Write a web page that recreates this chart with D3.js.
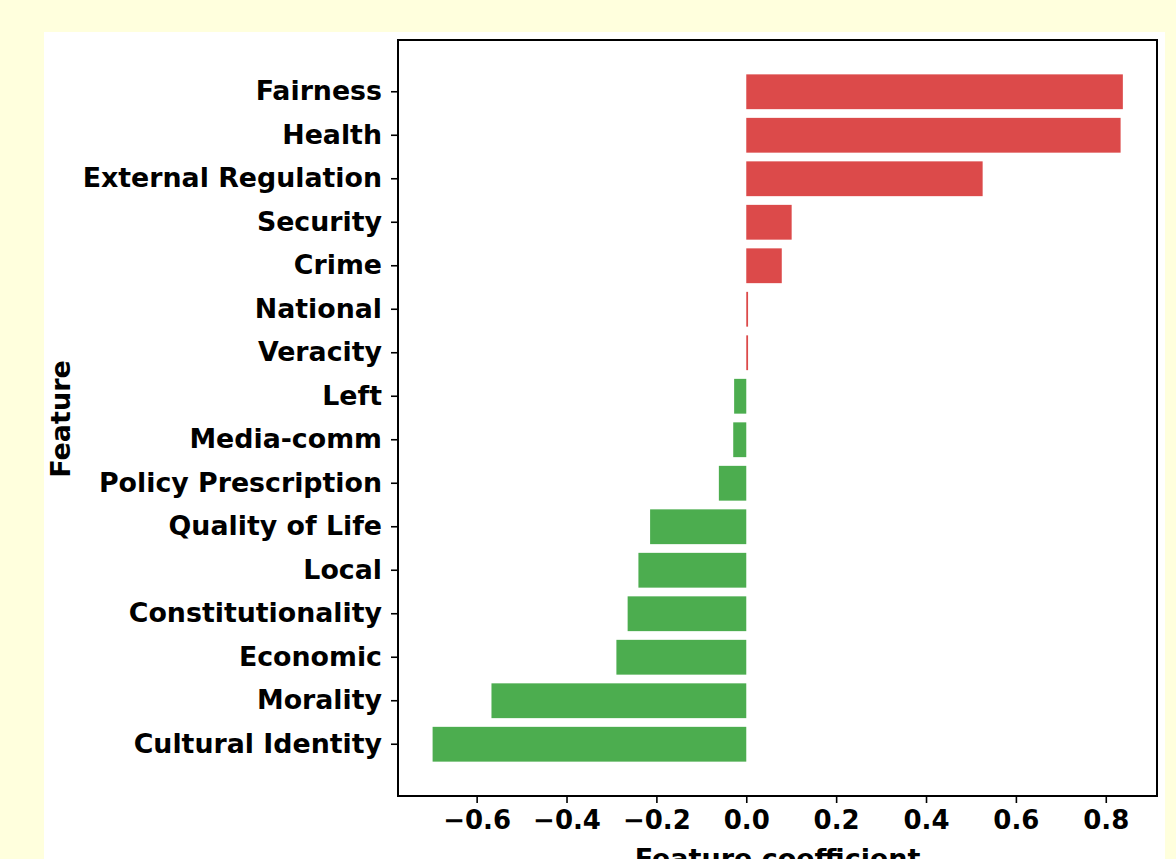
<!DOCTYPE html>
<html>
<head>
<meta charset="utf-8">
<script src="https://cdn.jsdelivr.net/npm/d3@7"></script>
<style>
  html, body { margin: 0; padding: 0; background: #ffffdd; }
  svg { display: block; }
  text { font-family: "DejaVu Sans", sans-serif; font-weight: bold; }
</style>
</head>
<body>
<svg id="chart" width="1176" height="859"></svg>
<script>
const features = ["Fairness", "Health", "External Regulation", "Security", "Crime", "National",
  "Veracity", "Left", "Media-comm", "Policy Prescription", "Quality of Life", "Local",
  "Constitutionality", "Economic", "Morality", "Cultural Identity"];
const coefficients = [0.838, 0.833, 0.526, 0.101, 0.079, 0.004,
  0.004, -0.027, -0.029, -0.061, -0.214, -0.240,
  -0.264, -0.289, -0.567, -0.698];
const xTicks = [-0.6, -0.4, -0.2, 0.0, 0.2, 0.4, 0.6, 0.8];
const xDomain = [-0.775, 0.914];
const posColor = "#dc4a4a";
const negColor = "#4cad4f";
const xLabel = "Feature coefficient";
const yLabel = "Feature";

const svg = d3.select("#chart");
const W = 1176, H = 859;
const plot = { left: 398, right: 1157, top: 40, bottom: 796 };

// background + white panel
svg.append("rect").attr("width", W).attr("height", H).attr("fill", "#ffffdd");
svg.append("rect").attr("x", 44).attr("y", 32).attr("width", 1121).attr("height", H - 32).attr("fill", "#ffffff");

const x = d3.scaleLinear().domain(xDomain).range([plot.left, plot.right]);
const y = d3.scaleBand().domain(features).range([plot.top, plot.bottom])
  .paddingInner(0.2).paddingOuter(0.79);

// bars
svg.append("g").selectAll("rect").data(features).join("rect")
  .attr("x", (d, i) => x(Math.min(0, coefficients[i])))
  .attr("width", (d, i) => Math.abs(x(coefficients[i]) - x(0)))
  .attr("y", d => y(d))
  .attr("height", y.bandwidth())
  .attr("fill", (d, i) => coefficients[i] >= 0 ? posColor : negColor);

// axes
const xAxis = d3.axisBottom(x).tickValues(xTicks).tickFormat(d3.format(".1f"))
  .tickSize(7).tickPadding(8).tickSizeOuter(0);
const gx = svg.append("g").attr("transform", `translate(0,${plot.bottom})`).call(xAxis);
gx.select(".domain").remove();
gx.selectAll(".tick line").attr("stroke", "#000").attr("stroke-width", 1.6);
gx.selectAll(".tick text").attr("font-size", 26).attr("fill", "#000")
  .attr("font-family", "DejaVu Sans").attr("font-weight", "bold");

const yAxis = d3.axisLeft(y).tickSize(7).tickPadding(9).tickSizeOuter(0);
const gy = svg.append("g").attr("transform", `translate(${plot.left},0)`).call(yAxis);
gy.select(".domain").remove();
gy.selectAll(".tick line").attr("stroke", "#000").attr("stroke-width", 1.6);
gy.selectAll(".tick text").attr("font-size", 26.8).attr("fill", "#000")
  .attr("font-family", "DejaVu Sans").attr("font-weight", "bold");

// frame
svg.append("rect").attr("x", plot.left).attr("y", plot.top)
  .attr("width", plot.right - plot.left).attr("height", plot.bottom - plot.top)
  .attr("fill", "none").attr("stroke", "#000").attr("stroke-width", 2);

// axis labels
svg.append("text").attr("x", (plot.left + plot.right) / 2).attr("y", 868)
  .attr("text-anchor", "middle").attr("font-size", 27).attr("fill", "#000").text(xLabel);
svg.append("text").attr("transform", `translate(70,${(plot.top + plot.bottom) / 2 + 1}) rotate(-90)`)
  .attr("text-anchor", "middle").attr("font-size", 27).attr("fill", "#000").text(yLabel);
</script>
</body>
</html>
